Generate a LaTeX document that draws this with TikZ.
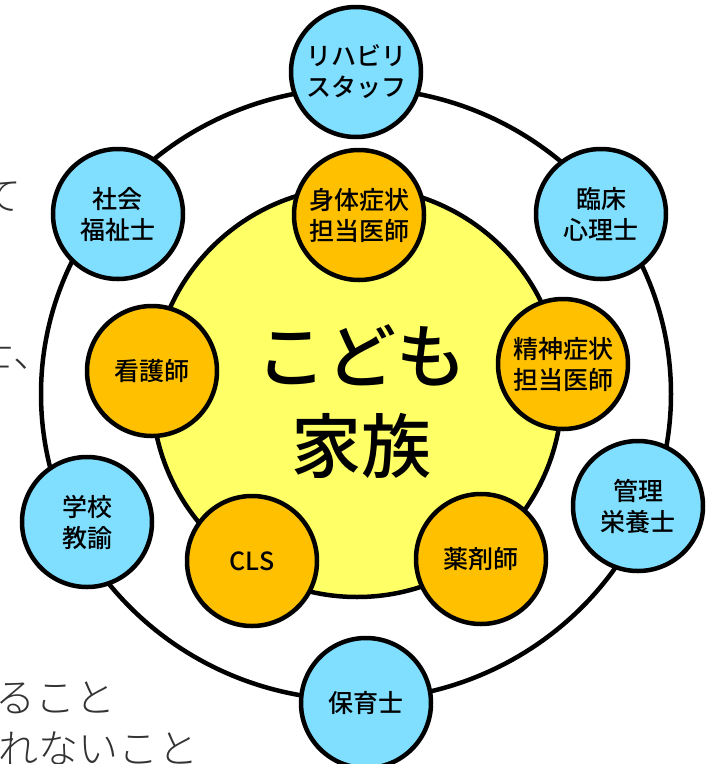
\documentclass[tikz,border=0pt]{standalone}
\usepackage{fontspec}
\setmainfont{Noto Sans CJK JP}[UprightFont=* Medium]
\newfontfamily\pagefont{Noto Sans CJK JP}[UprightFont=* Light]
\definecolor{staffblue}{RGB}{128,222,255}
\definecolor{doctororange}{RGB}{255,192,0}
\definecolor{familyyellow}{RGB}{255,255,102}
\definecolor{textgray}{RGB}{51,51,51}
\begin{document}
\begin{tikzpicture}[x=1pt, y=-1pt,
    staff/.style={circle, draw, line width=4.5pt, fill=staffblue, minimum size=130pt,
        inner sep=0pt, align=center, font=\fontsize{25}{31}\selectfont},
    doctor/.style={staff, fill=doctororange},
    bgtext/.style={text=textgray, inner sep=0pt, font=\pagefont\fontsize{40}{48}\selectfont}]
\useasboundingbox (0,0) rectangle (713,764);
\clip (0,0) rectangle (713,764);
% text of the page behind
\node[bgtext, anchor=east] (te) at (22,197) {て};
\node[bgtext, anchor=east] (shi) at (54,352) {士、};
\node[bgtext, anchor=east] (koto) at (116,698) {ること};
\node[bgtext, anchor=east] (nai) at (199,748) {れないこと};
% ring and family
\draw[line width=4.5pt] (356,394) ellipse [x radius=315, y radius=306];
\draw[line width=4.5pt, fill=familyyellow] (357,392) circle [radius=205];
\node[align=center, inner sep=0pt, font=\fontsize{70}{90}\selectfont] (family) at (361,402) {こども\\家族};
\foreach \x/\y/\name/\txt in {356/72/reha/{リハビリ\\スタッフ}, 601/214/rinsho/{臨床\\心理士},
    638/506/kanri/{管理\\栄養士}, 366/703/hoiku/{保育士}, 87/522/gakko/{学校\\教諭},
    118/214/shakai/{社会\\福祉士}}
{
    \node[staff] (\name) at (\x,\y) {\txt};
}
\foreach \x/\y/\name/\txt in {359/215/shintai/{身体症状\\担当医師}, 563/364/seishin/{精神症状\\担当医師},
    481/559/yakuzai/{薬剤師}, 252/561/cls/{CLS}, 152/371/kango/{看護師}}
{
    \node[doctor] (\name) at (\x,\y) {\txt};
}
\end{tikzpicture}
\end{document}
